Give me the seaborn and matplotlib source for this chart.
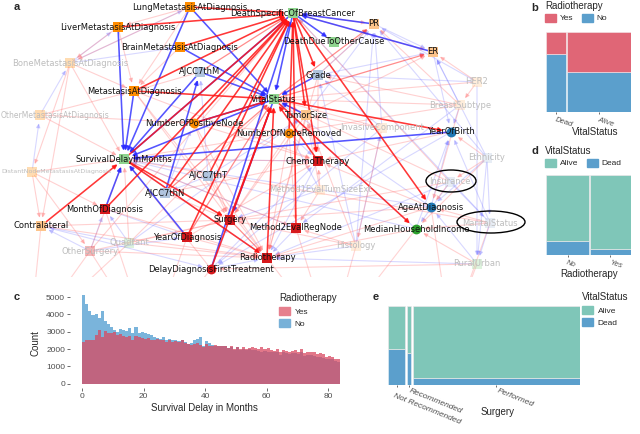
import numpy as np
import pandas as pd
import matplotlib
matplotlib.use("Agg")
import matplotlib.pyplot as plt
import matplotlib.transforms as mtransforms
import seaborn as sns
from matplotlib.patches import Ellipse, Patch

# ---------------- data ----------------
# panel a: network nodes (id, label, layout position in pixels, group, shape)
node_ids = ["lung", "dbc", "liver", "brain", "bone", "m7", "meta", "other", "posn", "vital",
            "rem", "tsize", "grade", "pr", "er", "dother", "her2", "subtype", "invasive", "yob",
            "surv", "nodemeta", "t7", "n7", "chemo", "tsext", "month", "surgery", "m2", "ins",
            "eth", "age", "marital", "income", "hist", "rural", "yod", "quad", "osurg", "contra",
            "radio", "delay"]
node_labels = ["LungMetastasisAtDiagnosis", "DeathSpecificOfBreastCancer", "LiverMetastasisAtDiagnosis",
               "BrainMetastasisAtDiagnosis", "BoneMetastasisAtDiagnosis", "AJCC7thM", "MetastasisAtDiagnosis",
               "OtherMetastasisAtDiagnosis", "NumberOfPositiveNode", "VitalStatus", "NumberOfNodeRemoved",
               "TumorSize", "Grade", "PR", "ER", "DeathDueToOtherCause", "HER2", "BreastSubtype",
               "InvasiveComponent", "YearOfBirth", "SurvivalDelayInMonths", "DistantNodeMetastasisAtDiagnosis",
               "AJCC7thT", "AJCC7thN", "ChemoTherapy", "Method1EvalTumSizeExt", "MonthOfDiagnosis", "Surgery",
               "Method2EvalRegNode", "Insurance", "Ethnicity", "AgeAtDiagnosis", "MaritalStatus",
               "MedianHouseholdIncome", "Histology", "RuralUrban", "YearOfDiagnosis", "Quadrant",
               "OtherSurgery", "Contralateral", "Radiotherapy", "DelayDiagnosisFirstTreatment"]
node_x = [190, 293, 118, 180, 70, 200, 134, 40, 194, 274,
          289, 306, 318, 374, 433, 334, 477, 460, 382, 451,
          124, 32, 208, 165, 318, 320, 105, 230, 296, 450,
          487, 431, 490, 416, 356, 477, 187, 129, 90, 41,
          267, 211]
node_y = [7, 13, 27, 47, 63, 72, 91, 115, 123, 99,
          133, 115, 75, 24, 52, 42, 82, 105, 128, 132,
          159, 172, 176, 193, 161, 190, 209, 220, 228, 182,
          158, 207, 223, 229, 246, 264, 237, 243, 251, 226,
          258, 269]
node_group = ["meta", "outcome", "meta", "meta", "meta", "stage", "meta", "meta", "meta", "outcome",
              "meta", "receptor", "stage", "receptor", "receptor", "outcome", "receptor", "receptor", "receptor", "person",
              "outcome", "meta", "stage", "stage", "treat", "receptor", "treat", "treat", "treat", "stage",
              "stage", "person", "stage", "social", "receptor", "outcome", "treat", "outcome", "treat", "receptor",
              "treat", "treat"]
circle_nodes = ["posn", "rem", "yob", "age", "income", "delay"]
faded_nodes = ["bone", "other", "her2", "subtype", "invasive", "nodemeta", "tsext", "ins",
               "eth", "marital", "hist", "rural", "quad", "osurg"]
edge_nodes = ["other", "nodemeta"]   # labels squeezed against the left border
circled_nodes = ["ins", "marital"]
# variables lying below the visible part of the graph
offscreen_ids = ["low1", "low2", "low3", "low4"]
offscreen_x = [30, 150, 330, 450]
offscreen_y = [335, 345, 340, 335]

strong_red_edges = [
    ("lung", "dbc"), ("liver", "dbc"), ("brain", "dbc"), ("meta", "dbc"), ("posn", "dbc"),
    ("surv", "dbc"), ("n7", "dbc"), ("t7", "dbc"), ("yod", "dbc"), ("rem", "dbc"),
    ("month", "dbc"), ("m2", "dbc"), ("radio", "vital"), ("delay", "vital"), ("chemo", "vital"),
    ("meta", "vital"), ("posn", "vital"), ("surgery", "vital"), ("contra", "surv"),
    ("surv", "radio"), ("surv", "surgery"), ("vital", "income"), ("dbc", "age"),
    ("vital", "yob"), ("dbc", "tsize"), ("dbc", "chemo"), ("dbc", "grade"),
]
medium_red_edges = [("vital", "pr"), ("vital", "er"), ("m7", "dbc"), ("n7", "vital"),
                    ("yod", "vital"), ("surgery", "radio")]
strong_blue_edges = [
    ("liver", "surv"), ("lung", "surv"), ("m7", "surv"), ("brain", "vital"), ("m7", "vital"),
    ("dbc", "dother"), ("pr", "dbc"), ("er", "dbc"), ("grade", "vital"), ("yob", "surv"),
    ("yod", "surv"), ("month", "surv"), ("delay", "dbc"), ("vital", "surv"), ("dbc", "surv"),
    ("dbc", "vital"), ("posn", "vital"), ("tsize", "vital"), ("lung", "vital"), ("n7", "m7"),
    ("vital", "surgery"), ("meta", "surv"),
]
faint_red_edges = [
    ("bone", "meta"), ("bone", "contra"), ("bone", "surv"), ("lung", "bone"), ("liver", "bone"),
    ("bone", "nodemeta"), ("other", "meta"), ("other", "surv"), ("other", "posn"),
    ("nodemeta", "surv"), ("nodemeta", "contra"), ("nodemeta", "osurg"), ("nodemeta", "month"),
    ("her2", "subtype"), ("her2", "er"), ("her2", "vital"), ("subtype", "pr"), ("subtype", "vital"),
    ("subtype", "grade"), ("subtype", "surv"), ("subtype", "age"), ("invasive", "tsize"),
    ("invasive", "vital"), ("invasive", "hist"), ("eth", "yob"), ("eth", "income"), ("eth", "ins"),
    ("ins", "age"), ("ins", "vital"), ("ins", "surgery"), ("ins", "dbc"), ("marital", "income"),
    ("marital", "age"), ("marital", "surv"), ("rural", "income"), ("rural", "delay"),
    ("hist", "tsize"), ("hist", "m2"), ("hist", "surgery"), ("quad", "surgery"), ("quad", "radio"),
    ("quad", "surv"), ("quad", "vital"), ("osurg", "surgery"), ("osurg", "radio"), ("osurg", "surv"),
    ("osurg", "dbc"), ("tsext", "tsize"), ("tsext", "m2"), ("tsext", "chemo"), ("posn", "rem"),
    ("posn", "surgery"), ("posn", "radio"), ("posn", "chemo"), ("rem", "surgery"), ("rem", "radio"),
    ("rem", "m2"), ("tsize", "surgery"), ("tsize", "chemo"), ("tsize", "radio"), ("grade", "chemo"),
    ("grade", "radio"), ("meta", "chemo"), ("meta", "surgery"), ("meta", "radio"), ("n7", "surgery"),
    ("n7", "chemo"), ("t7", "surgery"), ("t7", "radio"), ("age", "chemo"), ("age", "surgery"),
    ("age", "radio"), ("yob", "chemo"), ("income", "radio"), ("contra", "radio"),
    ("contra", "surgery"), ("month", "radio"), ("yod", "radio"), ("yod", "chemo"), ("delay", "surv"),
    ("m7", "meta"), ("liver", "meta"), ("lung", "meta"), ("brain", "meta"), ("lung", "liver"),
    ("surv", "chemo"), ("surv", "m2"), ("vital", "tsize"), ("dbc", "pr"), ("dbc", "er"),
    ("grade", "pr"), ("tsize", "er"),
]
faint_blue_edges = [
    ("bone", "liver"), ("bone", "brain"), ("bone", "lung"), ("other", "bone"), ("nodemeta", "other"),
    ("her2", "pr"), ("her2", "rural"), ("her2", "grade"), ("subtype", "er"), ("subtype", "yob"),
    ("subtype", "m2"), ("invasive", "grade"), ("invasive", "delay"), ("invasive", "pr"),
    ("eth", "rural"), ("eth", "marital"), ("eth", "er"), ("eth", "age"), ("eth", "pr"),
    ("ins", "income"), ("ins", "marital"), ("ins", "radio"), ("marital", "rural"), ("marital", "dbc"),
    ("marital", "yob"), ("rural", "radio"), ("rural", "age"), ("hist", "grade"), ("hist", "radio"),
    ("hist", "invasive"), ("hist", "pr"), ("quad", "contra"), ("quad", "tsize"), ("quad", "month"),
    ("osurg", "contra"), ("osurg", "month"), ("osurg", "yod"), ("tsext", "surgery"), ("tsext", "rem"),
    ("age", "yob"), ("age", "surv"), ("age", "vital"), ("income", "surv"), ("income", "vital"),
    ("income", "yob"), ("delay", "radio"), ("delay", "surgery"), ("delay", "chemo"), ("chemo", "surv"),
    ("radio", "surv"), ("m2", "surv"), ("t7", "n7"), ("t7", "m7"), ("t7", "tsize"), ("n7", "posn"),
    ("grade", "er"), ("grade", "pr"), ("tsize", "pr"), ("yob", "delay"), ("month", "yod"),
    ("contra", "delay"), ("m2", "radio"), ("chemo", "radio"), ("rem", "chemo"), ("pr", "er"),
    ("er", "yob"),
]
offscreen_edges = [("low1", "contra"), ("low1", "quad"), ("low1", "osurg"), ("low2", "osurg"),
                   ("low2", "delay"), ("low2", "yod"), ("low2", "month"), ("low3", "hist"),
                   ("low3", "income"), ("low3", "radio"), ("low3", "m2"), ("low4", "rural"),
                   ("low4", "age"), ("low4", "marital")]

# panel b: radiotherapy share by vital status
b_status = ["Dead", "Alive"]
b_width = [0.24, 0.76]
b_yes_share = [0.27, 0.50]

# panel c: survival delay histogram (counts per month)
months = list(range(84))
yes_counts = [2400, 2500, 2550, 2550, 2800, 3100, 2700, 3050, 2900, 2900,
              3000, 2800, 2850, 2750, 2700, 2750, 2550, 2750, 2700, 2650,
              2600, 2650, 2550, 2500, 2600, 2500, 2550, 2400, 2500, 2400,
              2450, 2400, 2500, 2350, 2300, 2250, 2300, 2350, 2250, 2100,
              2300, 2200, 2150, 2250, 2200, 2150, 2150, 2050, 2150, 2000,
              2100, 2000, 2100, 2000, 2050, 2100, 2050, 2000, 2100, 2000,
              2050, 1950, 1900, 2000, 1800, 1950, 1900, 1850, 1900, 1950,
              1850, 2000, 1750, 1800, 1850, 1800, 1700, 1750, 1700, 1550,
              1600, 1550, 1450, 1400]
no_counts = [5100, 4600, 4200, 3950, 4050, 3780, 4200, 3600, 3450, 3300,
             3100, 3000, 3150, 3100, 3050, 3200, 2900, 3250, 2900, 3000,
             2950, 2850, 2800, 2700, 2650, 2600, 2700, 2550, 2600, 2500,
             2550, 2450, 2500, 2400, 2300, 2350, 2500, 2600, 2700, 2200,
             2450, 2350, 2250, 2200, 2150, 2200, 2150, 2050, 2100, 1950,
             2100, 1950, 2000, 1950, 2000, 1950, 1950, 1900, 1850, 1900,
             1850, 1800, 1800, 1850, 1650, 1800, 1750, 1700, 1750, 1750,
             1700, 1800, 1600, 1650, 1650, 1600, 1550, 1550, 1500, 1400,
             1450, 1400, 1300, 1250]

# panel d: vital status by radiotherapy
d_radio = ["No", "Yes"]
d_width = [0.51, 0.49]
d_dead_share = [0.17, 0.075]

# panel e: vital status by surgery
e_surgery = ["Not Recommended", "Recommended", "Performed"]
e_width = [0.09, 0.02, 0.87]
e_dead_share = [0.45, 0.41, 0.085]

# ---------------- style ----------------
sns.set_theme(style="white")
plt.rcParams["font.family"] = ["Liberation Sans", "DejaVu Sans"]

W, H = 640, 434
fig = plt.figure(figsize=(W / 100, H / 100), dpi=100)

RED, BLUE = "#E06676", "#5B9FCC"
TEAL = "#7FC6B8"
GREY = "#4D4D4D"
group_colors = {"meta": "#FF8C00", "outcome": "#8FD48F", "stage": "#B0C4DE", "receptor": "#FDC48A",
                "treat": "#D7191C", "person": "#1F77B4", "social": "#2CA02C"}


def px_axes(x0, y0, x1, y1):
    return fig.add_axes([x0 / W, 1 - y1 / H, (x1 - x0) / W, (y1 - y0) / H])


def fig_text(x, y, s, **kw):
    fig.text(x / W, 1 - y / H, s, **kw)


def px_legend(ax, handles, labels, x, y, title, ncol=1, **kw):
    leg = ax.legend(handles, labels, title=title, ncol=ncol, loc="upper left",
                    bbox_to_anchor=(x / W, 1 - y / H), bbox_transform=fig.transFigure,
                    frameon=False, fontsize=6, title_fontsize=7, handlelength=1.3,
                    handleheight=1.1, borderaxespad=0, borderpad=0, **kw)
    leg._legend_box.align = "left"
    return leg


# ---------------- panel a: network ----------------
ax = px_axes(11, 0, 530, 277)
ax.set_xlim(11, 530)
ax.set_ylim(277, 0)
ax.axis("off")

pos = dict(zip(node_ids, zip(node_x, node_y)))
low_pos = dict(zip(offscreen_ids, zip(offscreen_x, offscreen_y)))

for a, b in offscreen_edges:
    (x0, y0), (x1, y1) = low_pos[a], pos[b]
    ax.plot([x0, x1], [y0, y1], color="#FF7070", alpha=0.3, lw=0.8, zorder=1)


def draw_edges(edges, color, alpha, lw, z):
    for a, b in edges:
        ax.annotate("", xy=pos[b], xytext=pos[a], zorder=z,
                    arrowprops=dict(arrowstyle="-|>", color=color, alpha=alpha, lw=lw,
                                    shrinkA=3, shrinkB=6, mutation_scale=6))


draw_edges(faint_blue_edges, "#7373FF", 0.28, 0.8, 1)
draw_edges(faint_red_edges, "#FF6F6F", 0.32, 0.8, 1)
draw_edges(medium_red_edges, "#FF4040", 0.6, 0.9, 2)
draw_edges(strong_blue_edges, "#2A2AFF", 0.8, 1.15, 2)
draw_edges(strong_red_edges, "#FF1414", 0.85, 1.15, 2)

for nid, label, x, y, grp in zip(node_ids, node_labels, node_x, node_y, node_group):
    faded = nid in faded_nodes
    ax.scatter(x, y, s=50, marker="o" if nid in circle_nodes else "s", color=group_colors[grp],
               alpha=0.3 if faded else 1.0, linewidths=0, zorder=3)
    if nid in edge_nodes:
        # long labels at the left border: shrink them so they stay inside the figure
        fig_text(1, y, label, ha="left", va="center", family="DejaVu Sans", color="#BDBDBD",
                 fontsize=5.5 if nid == "other" else 4.5, zorder=4)
        continue
    ax.text(x, y, label, ha="center", va="center", fontsize=6, family="DejaVu Sans",
            color="#BDBDBD" if faded else "#111111", zorder=4, clip_on=True)

for nid in circled_nodes:
    x, y = pos[nid]
    w = 50 if nid == "ins" else 68
    ax.add_patch(Ellipse((x + 1, y - 1), w, 22, fill=False, ec="black", lw=1.0, zorder=5))

fig_text(14, 7, "a", fontsize=8, fontweight="bold", va="center")


# ---------------- mosaic panels ----------------
def mosaic(ax, cats, widths, bottom_share, bottom_color, top_color, gap, rot, size):
    widths = np.array(widths)
    bottom_share = np.array(bottom_share)
    lefts = np.concatenate([[0], np.cumsum(widths + gap)[:-1]])
    ax.bar(lefts, bottom_share, width=widths, align="edge", color=bottom_color,
           edgecolor="#EAF2F8", linewidth=0.4)
    ax.bar(lefts, 1 - bottom_share, bottom=bottom_share, width=widths, align="edge",
           color=top_color, edgecolor="#F4E9EC", linewidth=0.4)
    ax.set_xlim(0, lefts[-1] + widths[-1])
    ax.set_ylim(0, 1)
    ax.set_xticks(lefts + widths / 2)
    ax.set_xticklabels(cats, rotation=rot, ha="left", va="top", rotation_mode="anchor",
                       fontsize=size, color=GREY, style="italic")
    ax.set_yticks([])
    ax.tick_params(axis="x", length=1.5, width=0.6, color="#555555", pad=1.2, bottom=True)
    for s in ax.spines.values():
        s.set_visible(False)
    ax.set_facecolor("white")


# panel b
ax_b = px_axes(546, 32, 631, 112)
mosaic(ax_b, b_status, b_width, 1 - np.array(b_yes_share), BLUE, RED, 0.012, -18, 5.5)
ax_b.set_xlabel("VitalStatus", fontsize=7)
ax_b.xaxis.set_label_coords(0.576, -0.19)
px_legend(ax_b, [Patch(color=RED), Patch(color=BLUE)], ["Yes", "No"], 545, 1, "Radiotherapy",
          ncol=2, columnspacing=1.0, handletextpad=0.5, labelspacing=0.3)
fig_text(531, 8, "b", fontsize=8, fontweight="bold", va="center")

# panel d
ax_d = px_axes(546, 175, 631, 255)
mosaic(ax_d, d_radio, d_width, d_dead_share, BLUE, TEAL, 0.006, -18, 5.5)
ax_d.set_xlabel("Radiotherapy", fontsize=7)
ax_d.xaxis.set_label_coords(0.51, -0.18)
px_legend(ax_d, [Patch(color=TEAL), Patch(color=BLUE)], ["Alive", "Dead"], 545, 146, "VitalStatus",
          ncol=2, columnspacing=1.0, handletextpad=0.5, labelspacing=0.3)
fig_text(532, 151, "d", fontsize=8, fontweight="bold", va="center")

# panel e
ax_e = px_axes(388, 306, 580, 385)
mosaic(ax_e, e_surgery, e_width, e_dead_share, BLUE, TEAL, 0.009, -22, 6)
nr_label = ax_e.get_xticklabels()[0]
nr_label.set_transform(nr_label.get_transform() +
                       mtransforms.ScaledTranslation(-2 / 100, -4 / 100, fig.dpi_scale_trans))
for lab in ax_e.get_xticklabels()[1:]:
    lab.set_transform(lab.get_transform() +
                      mtransforms.ScaledTranslation(2 / 100, 1 / 100, fig.dpi_scale_trans))
ax_e.set_xlabel("Surgery", fontsize=7)
ax_e.xaxis.set_label_coords(0.573, -0.28)
px_legend(ax_e, [Patch(color=TEAL), Patch(color=BLUE)], ["Alive", "Dead"], 582, 292, "VitalStatus",
          handletextpad=0.6, labelspacing=0.45)
fig_text(373, 297, "e", fontsize=8, fontweight="bold", va="center")

# ---------------- panel c: histogram ----------------
hist_df = pd.DataFrame({
    "month": months + months,
    "count": yes_counts + no_counts,
    "Radiotherapy": ["Yes"] * len(months) + ["No"] * len(months),
})
ax_c = px_axes(70, 291, 351, 388)
sns.histplot(data=hist_df, x="month", weights="count", hue="Radiotherapy", hue_order=["Yes", "No"],
             bins=84, binrange=(0, 84), multiple="layer", palette={"Yes": "#D94A61", "No": "#4D9BD0"},
             alpha=0.75, linewidth=0, legend=False, ax=ax_c)
ax_c.set_xlim(-4, 87.5)
ax_c.set_ylim(-255, 5355)
ax_c.set_yticks([0, 1000, 2000, 3000, 4000, 5000])
ax_c.set_xticks([0, 20, 40, 60, 80])
ax_c.tick_params(labelsize=6, labelcolor=GREY, length=2, width=0.6, color="#555555", pad=1.5,
                 left=True, bottom=True)
for s in ax_c.spines.values():
    s.set_visible(False)
ax_c.set_xlabel("Survival Delay in Months", fontsize=7)
ax_c.set_ylabel("Count", fontsize=7)
ax_c.xaxis.set_label_coords(0.48, -0.155)
ax_c.yaxis.set_label_coords(-0.105, 0.46)
ax_c.grid(False)
px_legend(ax_c, [Patch(color="#E67F8D"), Patch(color="#78B1D8")], ["Yes", "No"], 279, 293,
          "Radiotherapy", handletextpad=0.6, labelspacing=0.45)
fig_text(14, 297, "c", fontsize=8, fontweight="bold", va="center")

fig.savefig("out.png", dpi=100)
